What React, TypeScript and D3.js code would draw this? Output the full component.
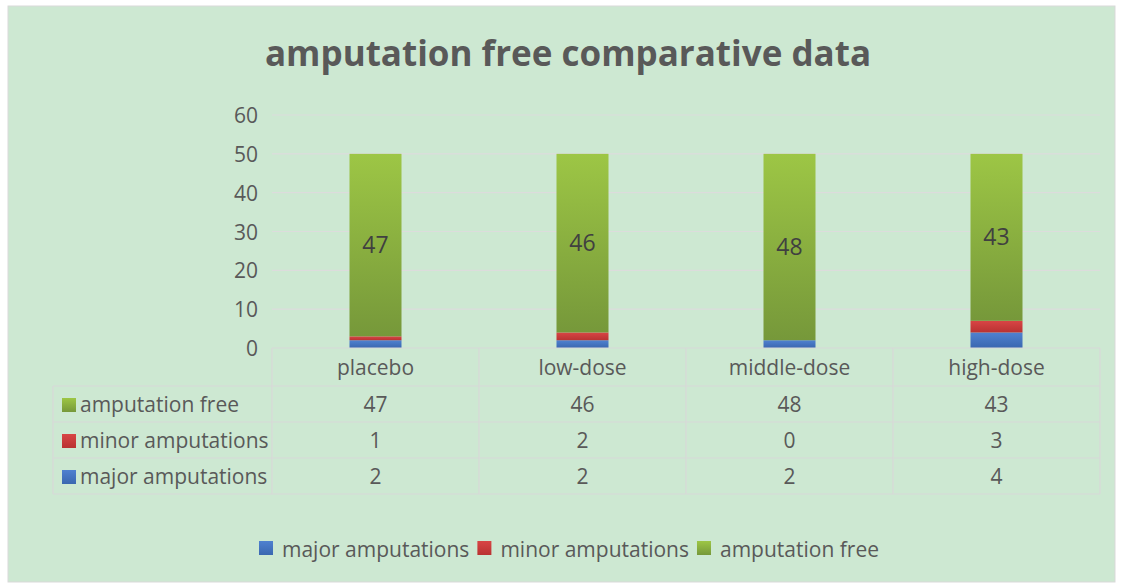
import React, { useEffect, useRef } from 'react';
import * as d3 from 'd3';

const categories = ['placebo', 'low-dose', 'middle-dose', 'high-dose'];
const seriesNames = ['major amputations', 'minor amputations', 'amputation free'];
const majorAmputations = [2, 2, 2, 4];
const minorAmputations = [1, 2, 0, 3];
const amputationFree = [47, 46, 48, 43];
const yTicks = [0, 10, 20, 30, 40, 50, 60];

const W = 1123;
const H = 584;
const PLOT = { left: 272, right: 1100, top: 115, bottom: 348 };
const FONT = '"Open Sans", sans-serif';
const TEXT = '#595959';
const FS = 21;

const colors = {
  'major amputations': ['#4f81d0', '#3a67b0'],
  'minor amputations': ['#d84545', '#b93232'],
  'amputation free': ['#9dc645', '#76983a'],
};

export default function App() {
  const ref = useRef<SVGSVGElement>(null);

  useEffect(() => {
    const svg = d3.select(ref.current);
    svg.selectAll('*').remove();

    const defs = svg.append('defs');
    seriesNames.forEach((s, i) => {
      const g = defs.append('linearGradient')
        .attr('id', 'grad' + i)
        .attr('x1', 0).attr('y1', 0).attr('x2', 0).attr('y2', 1);
      g.append('stop').attr('offset', '0%').attr('stop-color', colors[s][0]);
      g.append('stop').attr('offset', '100%').attr('stop-color', colors[s][1]);
    });

    svg.append('rect')
      .attr('x', 8).attr('y', 6).attr('width', 1107).attr('height', 576)
      .attr('fill', '#cde8d2').attr('stroke', '#d9d9d9');

    svg.append('text')
      .attr('x', 568).attr('y', 66)
      .attr('text-anchor', 'middle')
      .attr('font-family', FONT).attr('font-weight', 'bold').attr('font-size', 35)
      .attr('fill', TEXT)
      .text('amputation free comparative data');

    const x = d3.scaleBand().domain(categories).range([PLOT.left, PLOT.right]);
    const y = d3.scaleLinear().domain([0, 60]).range([PLOT.bottom, PLOT.top]);

    // gridlines
    svg.append('g').selectAll('line').data(yTicks.filter(t => t > 0)).enter().append('line')
      .attr('x1', PLOT.left).attr('x2', PLOT.right)
      .attr('y1', d => y(d)).attr('y2', d => y(d))
      .attr('stroke', '#dcdcdc').attr('stroke-width', 1.2);

    svg.append('g').selectAll('text').data(yTicks).enter().append('text')
      .attr('x', 258).attr('y', d => y(d) + 8)
      .attr('text-anchor', 'end')
      .attr('font-family', FONT).attr('font-size', FS).attr('fill', TEXT)
      .text(d => d);

    const table = categories.map((c, i) => ({
      category: c,
      'major amputations': majorAmputations[i],
      'minor amputations': minorAmputations[i],
      'amputation free': amputationFree[i],
    }));
    const stacked = d3.stack<any>().keys(seriesNames)(table);

    const barW = 52;
    stacked.forEach((layer, si) => {
      svg.append('g').selectAll('rect').data(layer).enter().append('rect')
        .attr('x', d => x(d.data.category)! + x.bandwidth() / 2 - barW / 2)
        .attr('y', d => y(d[1]))
        .attr('width', barW)
        .attr('height', d => y(d[0]) - y(d[1]))
        .attr('fill', `url(#grad${si})`);
    });

    // data labels on amputation free
    const top = stacked[2];
    svg.append('g').selectAll('text').data(top).enter().append('text')
      .attr('x', d => x(d.data.category)! + x.bandwidth() / 2)
      .attr('y', d => y((d[0] + d[1]) / 2) + 8)
      .attr('text-anchor', 'middle')
      .attr('font-family', FONT).attr('font-size', 23).attr('fill', '#404040')
      .text(d => d[1] - d[0]);

    // data table
    const rowTops = [348, 386, 422, 458, 494];
    const tableLeft = 53;
    const grid = svg.append('g').attr('stroke', '#d8d8d8').attr('stroke-width', 1.2).attr('fill', 'none');
    rowTops.forEach((ry, i) => {
      grid.append('line')
        .attr('x1', i === 0 ? PLOT.left : tableLeft).attr('x2', PLOT.right)
        .attr('y1', ry).attr('y2', ry);
    });
    grid.append('line').attr('x1', tableLeft).attr('x2', tableLeft).attr('y1', rowTops[1]).attr('y2', rowTops[4]);
    categories.forEach((c, i) => {
      const xv = x(c)!;
      grid.append('line').attr('x1', xv).attr('x2', xv).attr('y1', rowTops[0]).attr('y2', rowTops[4]);
    });
    grid.append('line').attr('x1', PLOT.right).attr('x2', PLOT.right).attr('y1', rowTops[0]).attr('y2', rowTops[4]);

    svg.append('g').selectAll('text').data(categories).enter().append('text')
      .attr('x', d => x(d)! + x.bandwidth() / 2)
      .attr('y', (rowTops[0] + rowTops[1]) / 2 + 8)
      .attr('text-anchor', 'middle')
      .attr('font-family', FONT).attr('font-size', FS).attr('fill', TEXT)
      .text(d => d);

    const rows = [
      { name: 'amputation free', values: amputationFree, gi: 2 },
      { name: 'minor amputations', values: minorAmputations, gi: 1 },
      { name: 'major amputations', values: majorAmputations, gi: 0 },
    ];
    rows.forEach((r, ri) => {
      const cy = (rowTops[ri + 1] + rowTops[ri + 2]) / 2;
      svg.append('rect')
        .attr('x', 62).attr('y', cy - 6).attr('width', 14).attr('height', 14)
        .attr('fill', `url(#grad${r.gi})`);
      svg.append('text')
        .attr('x', 80).attr('y', cy + 8)
        .attr('font-family', FONT).attr('font-size', FS).attr('fill', TEXT)
        .text(r.name);
      svg.append('g').selectAll('text').data(r.values).enter().append('text')
        .attr('x', (d, i) => x(categories[i])! + x.bandwidth() / 2)
        .attr('y', cy + 8)
        .attr('text-anchor', 'middle')
        .attr('font-family', FONT).attr('font-size', FS).attr('fill', TEXT)
        .text(d => d);
    });

    // legend
    const legend = svg.append('g').attr('transform', 'translate(0,549)');
    let lx = 259;
    seriesNames.forEach((s, i) => {
      legend.append('rect').attr('x', lx).attr('y', -8).attr('width', 14).attr('height', 14)
        .attr('fill', `url(#grad${i})`);
      const t = legend.append('text')
        .attr('x', lx + 23).attr('y', 8)
        .attr('font-family', FONT).attr('font-size', FS).attr('fill', TEXT)
        .text(s);
      const w = (t.node() as SVGTextElement).getComputedTextLength();
      lx += 23 + w + 8;
    });
  }, []);

  return (
    <svg ref={ref} width={W} height={H} style={{ position: 'absolute', left: 0, top: 0 }} />
  );
}
